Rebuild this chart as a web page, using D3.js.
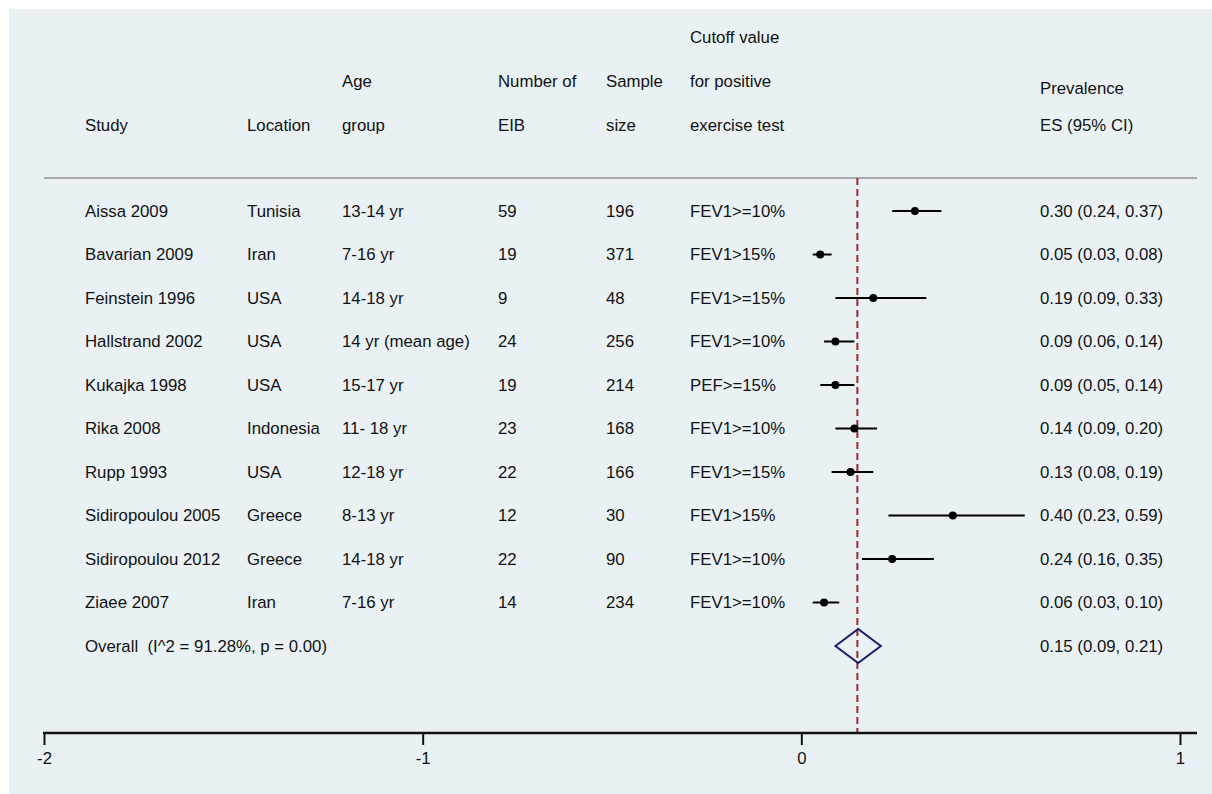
<!DOCTYPE html>
<html>
<head>
<meta charset="utf-8">
<script src="https://cdn.jsdelivr.net/npm/d3@7"></script>
<style>
  body { margin: 0; background: #fff; }
  text { font-family: "Liberation Sans", Arial, sans-serif; font-size: 16.8px; fill: #111; white-space: pre; }
</style>
</head>
<body>
<div id="chart"></div>
<script>
// study data
var studies = ["Aissa 2009", "Bavarian 2009", "Feinstein 1996", "Hallstrand 2002", "Kukajka 1998",
  "Rika 2008", "Rupp 1993", "Sidiropoulou 2005", "Sidiropoulou 2012", "Ziaee 2007"];
var locations = ["Tunisia", "Iran", "USA", "USA", "USA", "Indonesia", "USA", "Greece", "Greece", "Iran"];
var ageGroups = ["13-14 yr", "7-16 yr", "14-18 yr", "14 yr (mean age)", "15-17 yr", "11- 18 yr",
  "12-18 yr", "8-13 yr", "14-18 yr", "7-16 yr"];
var numberEIB = [59, 19, 9, 24, 19, 23, 22, 12, 22, 14];
var sampleSize = [196, 371, 48, 256, 214, 168, 166, 30, 90, 234];
var cutoffs = ["FEV1>=10%", "FEV1>15%", "FEV1>=15%", "FEV1>=10%", "PEF>=15%", "FEV1>=10%",
  "FEV1>=15%", "FEV1>15%", "FEV1>=10%", "FEV1>=10%"];
var es = [0.30, 0.05, 0.19, 0.09, 0.09, 0.14, 0.13, 0.40, 0.24, 0.06];
var lower = [0.24, 0.03, 0.09, 0.06, 0.05, 0.09, 0.08, 0.23, 0.16, 0.03];
var upper = [0.37, 0.08, 0.33, 0.14, 0.14, 0.20, 0.19, 0.59, 0.35, 0.10];

var overallLabel = "Overall  (I^2 = 91.28%, p = 0.00)";
var overallES = 0.15, overallLow = 0.09, overallHigh = 0.21;
var overallLine = 0.148;

var tickValues = [-2, -1, 0, 1];

var W = 1212, H = 794;
var svg = d3.select("#chart").append("svg").attr("width", W).attr("height", H);

svg.append("rect").attr("x", 9).attr("y", 9).attr("width", W - 9).attr("height", H - 9)
  .attr("fill", "#e9f1f4");

var x = d3.scaleLinear().domain([-2, 1]).range([44, 1180]);
var rowKeys = studies.concat(["Overall"]);
var y = d3.scalePoint().domain(rowKeys).range([211, 646]);

var axisY = 733, sepY = 178;

// header
var headers = [
  { x: 85, lines: ["", "", "Study"] },
  { x: 247, lines: ["", "", "Location"] },
  { x: 342, lines: ["", "Age", "group"] },
  { x: 498, lines: ["", "Number of", "EIB"] },
  { x: 606, lines: ["", "Sample", "size"] },
  { x: 690, lines: ["Cutoff value", "for positive", "exercise test"] }
];
var headerY = [37, 81, 125];
headers.forEach(function(h) {
  h.lines.forEach(function(t, i) {
    if (!t) return;
    svg.append("text").attr("x", h.x).attr("y", headerY[i]).attr("dy", "0.35em").text(t);
  });
});
svg.append("text").attr("x", 1040).attr("y", 88).attr("dy", "0.35em").text("Prevalence");
svg.append("text").attr("x", 1040).attr("y", 125).attr("dy", "0.35em").text("ES (95% CI)");

// separator
svg.append("line").attr("x1", 44).attr("x2", 1197).attr("y1", sepY).attr("y2", sepY)
  .attr("stroke", "#a8a8a8").attr("stroke-width", 2);

// table columns
var cols = [
  { x: 85, vals: studies },
  { x: 247, vals: locations },
  { x: 342, vals: ageGroups },
  { x: 498, vals: numberEIB },
  { x: 606, vals: sampleSize },
  { x: 690, vals: cutoffs }
];
cols.forEach(function(c) {
  svg.selectAll(null).data(c.vals).enter().append("text")
    .attr("x", c.x)
    .attr("y", function(d, i) { return y(studies[i]); })
    .attr("dy", "0.35em")
    .text(function(d) { return d; });
});

var f = d3.format(".2f");
svg.selectAll(null).data(studies).enter().append("text")
  .attr("x", 1040)
  .attr("y", function(d) { return y(d); })
  .attr("dy", "0.35em")
  .text(function(d, i) { return f(es[i]) + " (" + f(lower[i]) + ", " + f(upper[i]) + ")"; });

svg.append("text").attr("x", 85).attr("y", y("Overall")).attr("dy", "0.35em")
  .attr("xml:space", "preserve").text(overallLabel);
svg.append("text").attr("x", 1040).attr("y", y("Overall")).attr("dy", "0.35em")
  .text(f(overallES) + " (" + f(overallLow) + ", " + f(overallHigh) + ")");

// overall dashed line
svg.append("line")
  .attr("x1", x(overallLine)).attr("x2", x(overallLine))
  .attr("y1", sepY).attr("y2", axisY)
  .attr("stroke", "#9e2a2f").attr("stroke-width", 2)
  .attr("stroke-dasharray", "7,4");

// CIs
svg.selectAll(null).data(studies).enter().append("line")
  .attr("x1", function(d, i) { return x(lower[i]); })
  .attr("x2", function(d, i) { return x(upper[i]); })
  .attr("y1", function(d) { return y(d); })
  .attr("y2", function(d) { return y(d); })
  .attr("stroke", "#000").attr("stroke-width", 2);

svg.selectAll(null).data(studies).enter().append("circle")
  .attr("cx", function(d, i) { return x(es[i]); })
  .attr("cy", function(d) { return y(d); })
  .attr("r", 4)
  .attr("fill", "#000");

// overall diamond
var oy = y("Overall");
svg.append("path")
  .attr("d", "M" + x(overallLow) + "," + oy +
    "L" + x(overallES) + "," + (oy - 17) +
    "L" + x(overallHigh) + "," + oy +
    "L" + x(overallES) + "," + (oy + 17) + "Z")
  .attr("fill", "none").attr("stroke", "#1c1c6b").attr("stroke-width", 2);

// axis
var axis = d3.axisBottom(x).tickValues(tickValues).tickSize(12).tickPadding(7)
  .tickFormat(function(d) { return String(d); });
var gAxis = svg.append("g").attr("transform", "translate(0," + axisY + ")").call(axis);
gAxis.select(".domain").remove();
gAxis.selectAll(".tick line").attr("stroke", "#111").attr("stroke-width", 2);
gAxis.selectAll(".tick text").style("font-size", "16.8px").attr("fill", "#111")
  .style("font-family", "'Liberation Sans', Arial, sans-serif");
svg.append("line").attr("x1", x(-2) - 1).attr("x2", x(1) + 17).attr("y1", axisY).attr("y2", axisY)
  .attr("stroke", "#111").attr("stroke-width", 2.5);
</script>
</body>
</html>
